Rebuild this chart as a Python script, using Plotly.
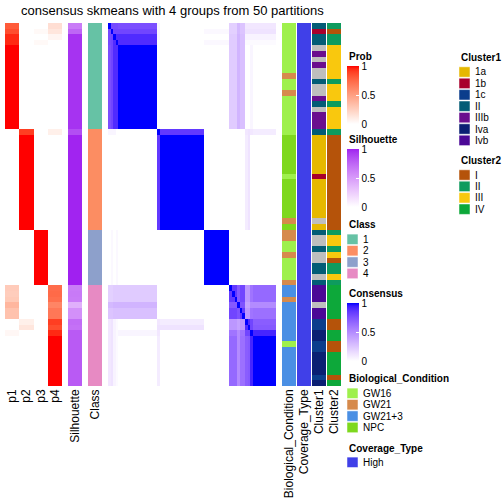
import plotly.graph_objects as go

# ---------------- data ----------------
samples = list(range(65))

p1 = [0.80, 0.85, 0.95, 0.95, 1, 1, 1, 1, 1, 1, 1, 1, 1, 1, 1, 1, 1, 1, 1,
      0, 0, 0, 0, 0, 0, 0, 0, 0, 0, 0, 0, 0, 0, 0, 0, 0, 0,
      0, 0, 0, 0, 0, 0, 0, 0, 0, 0,
      0.27, 0.26, 0.28, 0.38, 0.32, 0.32, 0, 0, 0.04, 0, 0, 0, 0, 0, 0, 0, 0, 0]
p2 = [0, 0, 0, 0, 0, 0, 0, 0, 0, 0, 0, 0, 0, 0, 0, 0, 0, 0, 0,
      0.90, 1, 1, 1, 1, 1, 1, 1, 1, 1, 1, 1, 1, 1, 1, 1, 1, 1,
      0, 0, 0, 0, 0, 0, 0, 0, 0, 0,
      0, 0, 0, 0, 0, 0, 0.08, 0.13, 0, 0, 0, 0, 0, 0, 0, 0, 0, 0]
p3 = [0, 0.03, 0, 0.03, 0, 0, 0, 0, 0, 0, 0, 0, 0, 0, 0, 0, 0, 0, 0,
      0, 0, 0, 0, 0, 0, 0, 0, 0, 0, 0, 0, 0, 0, 0, 0, 0, 0,
      1, 1, 1, 1, 1, 1, 1, 1, 1, 1,
      0, 0, 0, 0, 0, 0, 0, 0, 0, 0, 0, 0, 0, 0, 0, 0, 0, 0]
p4 = [0.17, 0.13, 0.05, 0, 0, 0, 0, 0, 0, 0, 0, 0, 0, 0, 0, 0, 0, 0, 0,
      0.08, 0, 0, 0, 0, 0, 0, 0, 0, 0, 0, 0, 0, 0, 0, 0, 0, 0,
      0, 0, 0, 0, 0, 0, 0, 0, 0, 0,
      0.73, 0.74, 0.72, 0.62, 0.68, 0.68, 0.90, 0.85, 0.95, 1, 1, 1, 1, 1, 1, 1, 1, 1]
silhouette = [0.65, 0.75, 0.95, 0.95, 0.95, 0.95, 0.95, 0.95, 0.95, 0.95, 0.95, 0.95, 0.95, 0.95, 0.95, 0.95, 0.95, 0.95, 0.95,
              0.85, 0.99, 0.99, 0.99, 0.99, 0.99, 0.99, 0.99, 0.99, 0.99, 0.99, 0.99, 0.99, 0.99, 0.99, 0.99, 0.99, 0.99,
              1, 1, 1, 1, 1, 1, 1, 1, 1, 1,
              0.65, 0.66, 0.65, 0.40, 0.55, 0.55, 0.72, 0.70, 0.80, 0.80, 0.80, 0.80, 0.80, 0.80, 0.80, 0.80, 0.80, 0.80]
class_labels = ["1", "2", "3", "4"]
sample_class = [1, 1, 1, 1, 1, 1, 1, 1, 1, 1, 1, 1, 1, 1, 1, 1, 1, 1, 1,
                2, 2, 2, 2, 2, 2, 2, 2, 2, 2, 2, 2, 2, 2, 2, 2, 2, 2,
                3, 3, 3, 3, 3, 3, 3, 3, 3, 3,
                4, 4, 4, 4, 4, 4, 4, 4, 4, 4, 4, 4, 4, 4, 4, 4, 4, 4]

bio_levels = ["GW16", "GW21", "GW21+3", "NPC"]
bio = ["GW16", "GW16", "GW16", "GW16", "GW16", "GW16", "GW16", "GW16", "GW16", "GW21",
       "GW16", "GW16", "GW21", "GW16", "GW16", "GW16", "GW16", "GW16", "GW16", "GW16",
       "NPC", "NPC", "NPC", "NPC", "NPC", "NPC", "NPC", "GW16",
       "NPC", "NPC", "NPC", "NPC", "NPC", "NPC", "NPC", "GW21", "NPC",
       "GW21", "GW21", "GW16", "GW16", "GW21", "GW16", "GW16", "GW16", "GW16", "GW21",
       "GW21+3", "GW21+3", "GW21", "GW21+3", "GW21+3", "GW21+3", "GW21+3", "GW21+3", "GW21+3", "GW21+3",
       "GW16", "GW21+3", "GW21+3", "GW21+3", "GW21+3", "GW21+3", "GW21+3", "GW21+3"]
cov_levels = ["High"]
coverage = ["High"] * 65

cl1_levels = ["1a", "1b", "1c", "II", "IIIb", "Iva", "Ivb"]
cluster1 = ["II", "1b", "II", "II", None, "IIIb", None, "IIIb", None, None,
            "II", None, None, "IIIb", "II", None, "IIIb", "IIIb", "IIIb",
            "II", "1a", "1a", "1a", "1a", "1a", "1a", "1a", "1b",
            "1a", "1a", "1a", "1a", "1a", "1a", "1a", None, "1a",
            "II", None, None, "II", None, None, "II", "II", None, "II",
            "Ivb", "Ivb", "Ivb", None, "Ivb", "Ivb", "1c", "1c", "Iva", "Iva",
            "1c", "1c", "Iva", "Iva", "Iva", "Iva", "1c", "Iva"]
cl2_levels = ["I", "II", "III", "IV"]
cluster2 = ["II", "I", "II", "II", "III", "III", "III", "III", "III", "III",
            "II", "III", "III", "III", "II", "III", "III", "III", "III",
            "II", "I", "I", "I", "I", "I", "I", "I", "I", "I", "I", "I", "I", "I", "I", "I", "I", "I",
            "II", "III", "III", "II", "III", "I", "II", "II", "III", "II",
            "IV", "IV", "IV", "IV", "IV", "IV", "I", "I", "IV", "IV",
            "I", "I", "IV", "IV", "IV", "IV", "I", "IV"]

# consensus matrix: block membership of each sample and block-to-block consensus values
cons_group = [0, 1, 2, 3, 4, 4, 4, 4, 4, 4, 4, 4, 4, 4, 4, 4, 4, 4, 4,
              5, 6, 6, 6, 6, 6, 6, 6, 6, 6, 6, 6, 6, 6, 6, 6, 6, 6,
              7, 7, 7, 7, 7, 7, 7, 7, 7, 7,
              8, 8, 8, 9, 10, 10, 11, 12, 13, 14, 14, 14, 14, 14, 14, 14, 14, 14]
cons_block = [
    [1.00, 0.78, 0.78, 0.78, 0.76, 0.04, 0, 0, 0.20, 0.30, 0.25, 0.10, 0.10, 0.10, 0.10],
    [0.78, 1.00, 0.80, 0.80, 0.80, 0.04, 0, 0.03, 0.20, 0.30, 0.25, 0.12, 0.12, 0.12, 0.12],
    [0.78, 0.80, 1.00, 0.90, 0.90, 0.04, 0, 0, 0.22, 0.32, 0.27, 0.05, 0.05, 0.05, 0.05],
    [0.78, 0.80, 0.90, 1.00, 0.90, 0, 0, 0.03, 0.22, 0.32, 0.27, 0.02, 0.02, 0.02, 0.02],
    [0.76, 0.80, 0.90, 0.90, 1.00, 0, 0, 0, 0.22, 0.32, 0.27, 0, 0, 0.04, 0],
    [0.04, 0.04, 0.04, 0, 0, 1.00, 0.85, 0, 0, 0, 0, 0.10, 0.12, 0.10, 0.08],
    [0, 0, 0, 0, 0, 0.85, 1.00, 0, 0, 0, 0, 0.08, 0.12, 0, 0],
    [0, 0.03, 0, 0.03, 0, 0, 0, 1.00, 0, 0, 0, 0, 0, 0, 0],
    [0.20, 0.20, 0.22, 0.22, 0.22, 0, 0, 0, 0.85, 0.72, 0.80, 0.45, 0.45, 0.60, 0.65],
    [0.30, 0.30, 0.32, 0.32, 0.32, 0, 0, 0, 0.72, 1.00, 0.75, 0.40, 0.40, 0.50, 0.50],
    [0.25, 0.25, 0.27, 0.27, 0.27, 0, 0, 0, 0.80, 0.75, 0.85, 0.45, 0.45, 0.60, 0.62],
    [0.10, 0.12, 0.05, 0.02, 0, 0.10, 0.08, 0, 0.45, 0.40, 0.45, 1.00, 0.90, 0.80, 0.70],
    [0.10, 0.12, 0.05, 0.02, 0, 0.12, 0.12, 0, 0.45, 0.40, 0.45, 0.90, 1.00, 0.80, 0.72],
    [0.10, 0.12, 0.05, 0.02, 0.04, 0.10, 0, 0, 0.60, 0.50, 0.60, 0.80, 0.80, 1.00, 0.92],
    [0.10, 0.12, 0.05, 0.02, 0, 0.08, 0, 0, 0.65, 0.50, 0.62, 0.70, 0.72, 0.92, 1.00],
]

# ---------------- colours ----------------
class_colors = ["#66C2A5", "#FC8D62", "#8DA0CB", "#E78AC3"]
bio_colors = ["#9EF04C", "#D68A4C", "#4A8FE4", "#7ED81E"]
cov_colors = ["#4040E8"]
cl1_colors = ["#E6B800", "#A8002C", "#0B3D8C", "#035C76", "#6A0E8E", "#0A1F73", "#4B0896"]
cl2_colors = ["#B5530A", "#0E9B5E", "#F9C80E", "#0DA83A"]
na_color = "#BEBEBE"
FONT = "Liberation Sans, Arial, sans-serif"


def _to_lin(c):
    c = c / 255.0
    return c / 12.92 if c <= 0.04045 else ((c + 0.055) / 1.055) ** 2.4


def _to_srgb(c):
    c = min(max(c, 0.0), 1.0)
    v = 12.92 * c if c <= 0.0031308 else 1.055 * c ** (1 / 2.4) - 0.055
    return int(round(v * 255))


def hex_to_lab(h):
    r, g, b = [_to_lin(int(h[i:i + 2], 16)) for i in (1, 3, 5)]
    X = 0.4124 * r + 0.3576 * g + 0.1805 * b
    Y = 0.2126 * r + 0.7152 * g + 0.0722 * b
    Z = 0.0193 * r + 0.1192 * g + 0.9505 * b

    def f(t):
        return t ** (1 / 3) if t > 0.008856 else 7.787 * t + 16 / 116
    fx_, fy_, fz_ = f(X / 0.95047), f(Y), f(Z / 1.08883)
    return (116 * fy_ - 16, 500 * (fx_ - fy_), 200 * (fy_ - fz_))


def lab_to_hex(L, a, b):
    fy_ = (L + 16) / 116
    fx_ = fy_ + a / 500
    fz_ = fy_ - b / 200

    def finv(t):
        return t ** 3 if t ** 3 > 0.008856 else (t - 16 / 116) / 7.787
    X, Y, Z = 0.95047 * finv(fx_), finv(fy_), 1.08883 * finv(fz_)
    r = 3.2406 * X - 1.5372 * Y - 0.4986 * Z
    g = -0.9689 * X + 1.8758 * Y + 0.0415 * Z
    bb = 0.0557 * X - 0.2040 * Y + 1.0570 * Z
    return "#%02x%02x%02x" % (_to_srgb(r), _to_srgb(g), _to_srgb(bb))


def lab_scale(c0, c1, n=21):
    l0, l1 = hex_to_lab(c0), hex_to_lab(c1)
    return [[k / (n - 1), lab_to_hex(*[l0[m] + (l1[m] - l0[m]) * k / (n - 1) for m in range(3)])]
            for k in range(n)]


def discrete(colors):
    n = len(colors)
    cs = []
    for k, c in enumerate(colors):
        cs.append([k / n, c])
        cs.append([(k + 1) / n, c])
    return cs


red_scale = lab_scale("#FFFFFF", "#FF0000")
purple_scale = lab_scale("#FFFFFF", "#A020F0")
blue_scale = lab_scale("#FFFFFF", "#0000FF")

W = H = 504


def fx(px):
    return px / W


def fy(py):
    return 1 - py / H


# ---------------- figure ----------------
fig = go.Figure()

pz = [[p1[i], p2[i], p3[i], p4[i]] for i in samples]


def cbar(top, length):
    return dict(x=fx(347), xanchor="left", y=fy(top), yanchor="top", len=length, lenmode="pixels",
                thickness=12, thicknessmode="pixels", outlinewidth=0, xpad=0, ypad=0,
                tickvals=[0, 0.5, 1], ticktext=["0", "0.5", "1"], ticks="inside", ticklen=3,
                tickcolor="white", tickfont=dict(size=10, family=FONT, color="black"))


fig.add_trace(go.Heatmap(z=pz, x=["p1", "p2", "p3", "p4"], y=samples, colorscale=red_scale,
                         zmin=0, zmax=1, xaxis="x", yaxis="y", colorbar=cbar(66, 58), hoverinfo="skip"))
fig.add_trace(go.Heatmap(z=[[s] for s in silhouette], x=["Silhouette"], y=samples, colorscale=purple_scale,
                         zmin=0, zmax=1, xaxis="x2", yaxis="y", colorbar=cbar(149, 58), hoverinfo="skip"))
fig.add_trace(go.Heatmap(z=[[c - 1] for c in sample_class], x=["Class"], y=samples,
                         colorscale=discrete(class_colors), zmin=-0.5, zmax=len(class_colors) - 0.5,
                         xaxis="x3", yaxis="y", showscale=False, hoverinfo="skip"))
cons = [[1.0 if i == j else cons_block[cons_group[i]][cons_group[j]] for j in samples] for i in samples]
fig.add_trace(go.Heatmap(z=cons, x=samples, y=samples, colorscale=blue_scale, zmin=0, zmax=1,
                         xaxis="x4", yaxis="y", colorbar=cbar(303, 58), hoverinfo="skip"))


def cat_trace(values, levels, colors, name, axis):
    cols = colors + [na_color]
    idx = [[levels.index(v) if v is not None else len(levels)] for v in values]
    return go.Heatmap(z=idx, x=[name], y=samples, colorscale=discrete(cols), zmin=-0.5,
                      zmax=len(cols) - 0.5, xaxis=axis, yaxis="y", showscale=False, hoverinfo="skip")


fig.add_trace(cat_trace(bio, bio_levels, bio_colors, "Biological_Condition", "x5"))
fig.add_trace(cat_trace(coverage, cov_levels, cov_colors, "Coverage_Type", "x6"))
fig.add_trace(cat_trace(cluster1, cl1_levels, cl1_colors, "Cluster1", "x7"))
fig.add_trace(cat_trace(cluster2, cl2_levels, cl2_colors, "Cluster2", "x8"))

domains = {"xaxis": (5, 62), "xaxis2": (68, 82), "xaxis3": (88, 102), "xaxis4": (108, 276),
           "xaxis5": (282, 296), "xaxis6": (297, 311), "xaxis7": (312, 326), "xaxis8": (327, 341)}
layout = dict(width=W, height=H, autosize=False, margin=dict(l=0, r=0, t=0, b=0),
              paper_bgcolor="white", plot_bgcolor="white", font=dict(family=FONT, color="black"),
              yaxis=dict(domain=[fy(386), fy(23)], range=[64.5, -0.5], visible=False, fixedrange=True))
for name, (a, b) in domains.items():
    layout[name] = dict(domain=[fx(a), fx(b)], anchor="y", showgrid=False, zeroline=False, showline=False,
                        ticks="", tickangle=-90, tickfont=dict(size=12, family=FONT, color="black"),
                        showticklabels=(name != "xaxis4"), fixedrange=True)
layout["xaxis4"]["range"] = [-0.5, 64.5]
fig.update_layout(**layout)

annotations = [dict(text="consensus skmeans with 4 groups from 50 partitions", x=fx(172.5), y=fy(10),
                    xref="paper", yref="paper", showarrow=False, xanchor="center", yanchor="middle",
                    font=dict(size=13, family=FONT))]
shapes = []


def legend_title(text, x, y):
    annotations.append(dict(text="<b>%s</b>" % text, x=fx(x), y=fy(y), xref="paper", yref="paper",
                            showarrow=False, xanchor="left", yanchor="middle", font=dict(size=10, family=FONT)))


def legend_items(labels, colors, x, y0, step=11.4):
    for k, (lab, col) in enumerate(zip(labels, colors)):
        yc = y0 + k * step
        shapes.append(dict(type="rect", xref="paper", yref="paper", x0=fx(x), x1=fx(x + 11),
                           y0=fy(yc - 5.2), y1=fy(yc + 5.2), fillcolor=col, line=dict(width=0.5, color="white")))
        annotations.append(dict(text=lab, x=fx(x + 13.5), y=fy(yc), xref="paper", yref="paper",
                                showarrow=False, xanchor="left", yanchor="middle", font=dict(size=10, family=FONT)))


legend_title("Prob", 347, 56)
legend_title("Silhouette", 347, 139)
legend_title("Class", 347, 224)
legend_items(class_labels, class_colors, 347, 239.3)
legend_title("Consensus", 347, 293)
legend_title("Biological_Condition", 347, 378)
legend_items(bio_levels, bio_colors, 347, 393.3)
legend_title("Coverage_Type", 347, 448)
legend_items(cov_levels, cov_colors, 347, 462.3)
legend_title("Cluster1", 459, 57)
legend_items(cl1_levels, cl1_colors, 459, 72)
legend_title("Cluster2", 459, 160)
legend_items(cl2_levels, cl2_colors, 459, 175)

fig.update_layout(annotations=annotations, shapes=shapes)
fig.write_html("out.html", config={"displayModeBar": False, "staticPlot": True},
               post_script="document.body.style.margin='0px';document.body.style.padding='0px';")
